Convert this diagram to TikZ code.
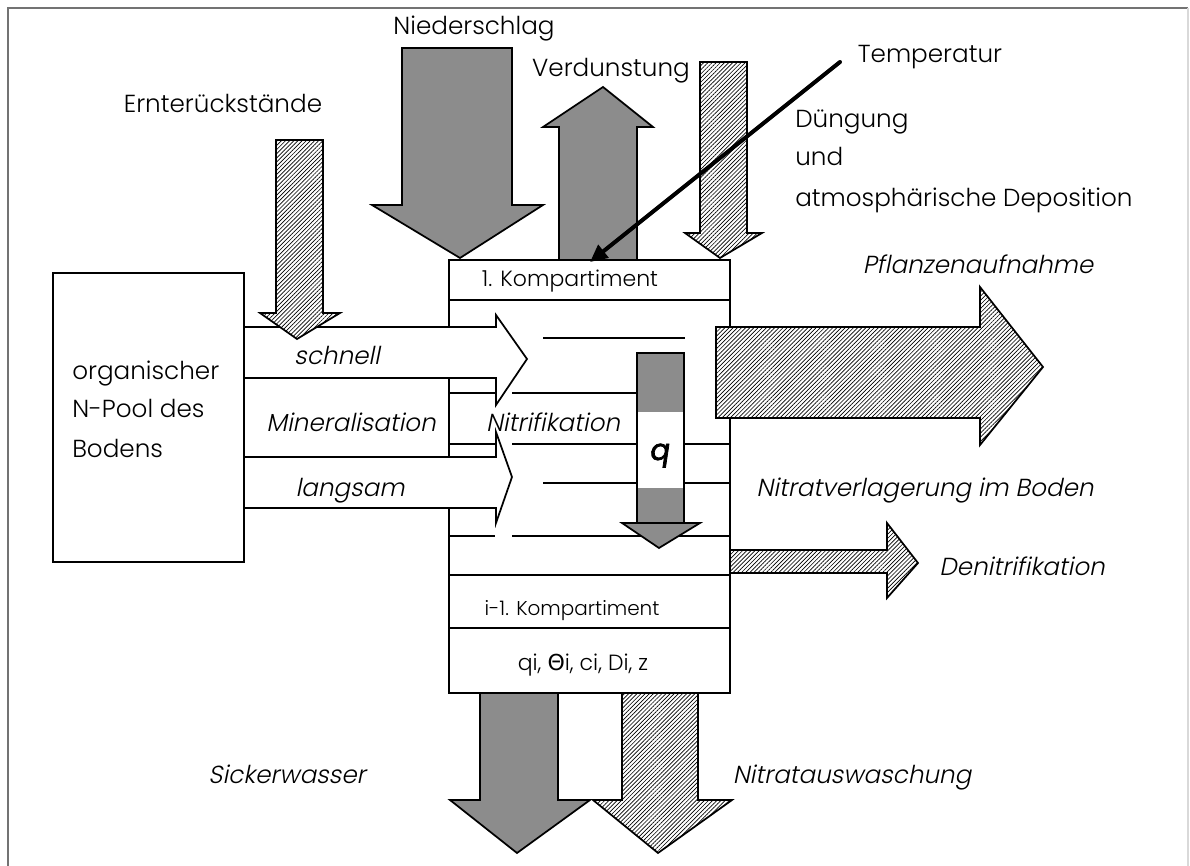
\documentclass[tikz,border=0pt]{standalone}
\usepackage{fontspec}
\IfFontExistsTF{Poppins Light}{\def\mainfam{Poppins Light}}{\def\mainfam{Poppins}}
\setmainfont{\mainfam}
\newfontfamily\itfont{\mainfam}[FakeSlant=0.2]
\newfontfamily\grfont{DejaVu Sans}
\newfontfamily\qfont{Poppins}[FakeSlant=0.15,FakeBold=2.5]
\usetikzlibrary{patterns.meta,arrows.meta}
\begin{document}
\begin{tikzpicture}[x=0.75pt,y=-0.75pt,
  ol/.style={draw=black, line width=1.3pt, line join=miter},
  dark/.style={ol, fill=black!45},
  hatch/.style={ol, preaction={fill=white}, pattern={Lines[angle=45,distance=2.2pt,line width=0.5pt]}},
  wht/.style={ol, fill=white},
  txt/.style={inner sep=0pt, anchor=base, font=\fontsize{18.5}{20}\selectfont},
  ltxt/.style={txt, anchor=base west},
  itxt/.style={inner sep=0pt, anchor=base, font=\fontsize{18.5}{20}\selectfont\itfont},
  ktxt/.style={inner sep=0pt, anchor=base, font=\fontsize{16.5}{18}\selectfont},
  qtxt/.style={inner sep=0pt, anchor=base, font=\fontsize{22}{24}\selectfont\qfont},
  frame/.style={draw=black!55, line width=1pt}]
\useasboundingbox (0,0) rectangle (1190,866);
\fill[white] (0,0) rectangle (1190,866);
% frame
\draw[frame] (8,866) -- (8,8) -- (1188,8);
\draw[draw=black!15, line width=0.8pt] (1188,8) -- (1188,866);

% compartment column
\draw[ol, fill=white] (449,260) rectangle (730,693);
\draw[ol] (449,300) -- (730,300);
\draw[ol] (449,575) -- (730,575);
\draw[ol] (449,628) -- (730,628);
\draw[ol] (543,338) -- (685,338);
\draw[ol] (449,393) -- (495,393) (512,393) -- (637,393);
\draw[ol] (449,444) -- (495,444) (512,444) -- (730,444);
\draw[ol] (543,483) -- (730,483);
\draw[ol] (449,536) -- (495,536) (512,536) -- (730,536);

% organic N pool box
\draw[ol] (53,273) rectangle (244,562);

% mineralisation arrows
\draw[wht] (244,327) -- (496,327) -- (496,315) -- (527,359) -- (496,405) -- (496,378) -- (244,378) -- cycle;
\draw[wht] (244,457) -- (496,457) -- (496,432) -- (512,477) -- (496,523) -- (496,508) -- (244,508) -- cycle;

% q arrow
\fill[black!45] (637,353) rectangle (684,412);
\fill[white] (637,412) rectangle (684,488);
\fill[black!45] (637,488) rectangle (684,523);
\draw[ol] (637,523) -- (637,353) -- (684,353) -- (684,523);
\draw[dark] (622,523) -- (700,523) -- (659,548) -- cycle;
\node[qtxt] (q) at (659,460) {q};

% right arrows
\draw[hatch] (716,327) -- (980,327) -- (980,287) -- (1043,367) -- (980,445) -- (980,418) -- (716,418) -- cycle;
\draw[hatch] (730,550) -- (887,550) -- (887,523) -- (918,563) -- (887,598) -- (887,573) -- (730,573) -- cycle;

% bottom arrows
\draw[dark] (480,693) -- (558,693) -- (558,800) -- (590,800) -- (517,853) -- (450,800) -- (480,800) -- cycle;
\draw[hatch] (622,693) -- (698,693) -- (698,800) -- (732,800) -- (658,853) -- (593,800) -- (622,800) -- cycle;

% top arrows
\draw[dark] (402,48) -- (512,48) -- (512,205) -- (543,205) -- (460,258) -- (372,205) -- (402,205) -- cycle;
\draw[dark] (559,260) -- (559,127) -- (543,127) -- (603,87) -- (653,127) -- (637,127) -- (637,260) -- cycle;
\draw[hatch] (700,62) -- (747,62) -- (747,233) -- (762,233) -- (720,258) -- (685,233) -- (700,233) -- cycle;
\draw[hatch] (276,140) -- (323,140) -- (323,313) -- (340,313) -- (297,339) -- (260,313) -- (276,313) -- cycle;

% temperature arrow
\coordinate (tstart) at (840,62);
\coordinate (ttip) at (590,262);
\draw[line width=3pt, line cap=round, -{Triangle[length=13pt,width=12pt]}] (tstart) -- (ttip);

% labels
\node[txt] (nieder) at (474,35) {Niederschlag};
\node[txt] (verd) at (611,77) {Verdunstung};
\node[txt] (temp) at (930,63) {Temperatur};
\node[ltxt] (dueng) at (795,128) {Düngung};
\node[ltxt] (und) at (795,166) {und};
\node[ltxt] (atmos) at (795,207) {atmosphärische Deposition};
\node[txt] (ernte) at (223,113) {Ernterückstände};
\node[ktxt] (komp1) at (570,287) {1. Kompartiment};
\node[itxt] (schnell) at (337,365) {schnell};
\node[itxt] (mineral) at (351,432) {Mineralisation};
\node[itxt] (langsam) at (350,497) {langsam};
\node[ltxt] (pool1) at (72,380) {organischer};
\node[ltxt] (pool2) at (72,418) {N-Pool des};
\node[ltxt] (pool3) at (72,458) {Bodens};
\node[itxt] (nitrif) at (553,432) {Nitrifikation};
\node[itxt] (pflanz) at (978,274) {Pflanzenaufnahme};
\node[itxt] (verlag) at (925,497) {Nitratverlagerung im Boden};
\node[itxt] (denitr) at (1022,575) {Denitrifikation};
\node[inner sep=0pt, anchor=base, font=\fontsize{15}{17}\selectfont] (kompi) at (572,615) {i-1. Kompartiment};
\node[inner sep=0pt, anchor=base, font=\fontsize{16.5}{18}\selectfont] (params) at (583,670) {qi, {\grfont Θ}i, ci, Di, z};
\node[itxt] (sicker) at (287,783) {Sickerwasser};
\node[itxt] (ausw) at (852,783) {Nitratauswaschung};
\end{tikzpicture}
\end{document}
